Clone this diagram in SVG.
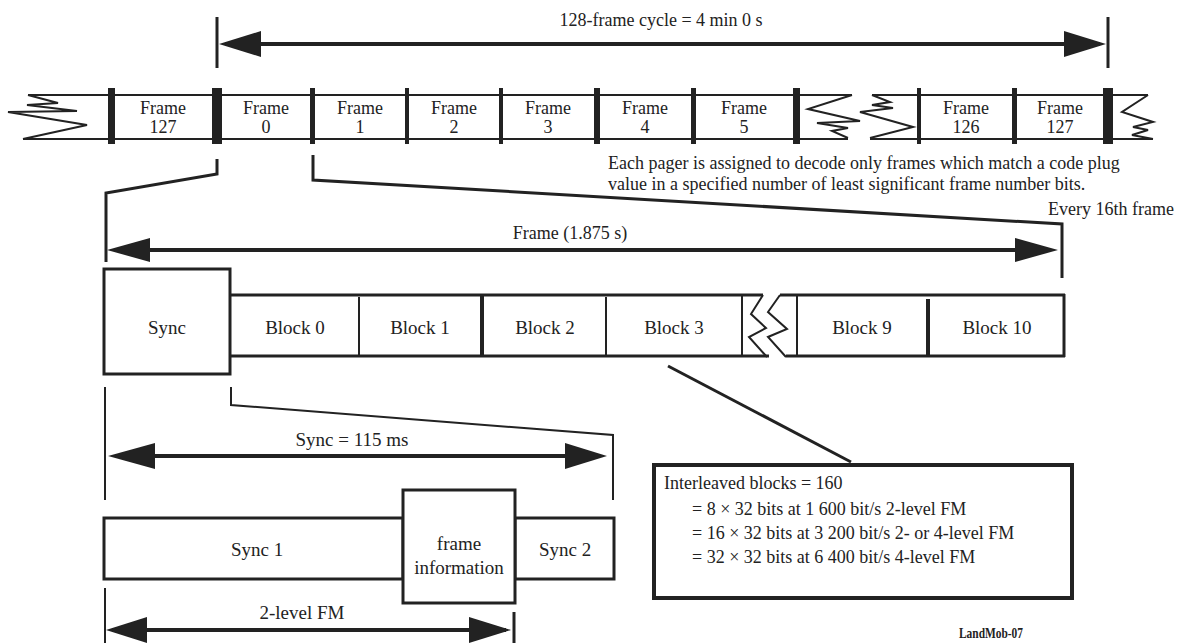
<svg xmlns="http://www.w3.org/2000/svg" width="1181" height="643" viewBox="0 0 1181 643">
<style>
text{font-family:"Liberation Serif","Times New Roman",serif;fill:#222;}
.f18{font-size:18px}
.f19{font-size:19px}
.mid{text-anchor:middle}
.ln{stroke:#222;fill:none;stroke-width:2}
.ln3{stroke:#222;fill:none;stroke-width:3}
.shaft{stroke:#222;fill:none;stroke-width:4}
.bar{fill:#222}
.ah{fill:#222}
.box{fill:#fff;stroke:#222;stroke-width:3}
</style>
<rect width="1181" height="643" fill="#fff"/>

<!-- Top cycle dimension -->
<g id="cycle-dim">
  <line class="ln3" x1="217" y1="17" x2="217" y2="68"/>
  <line class="ln3" x1="1108" y1="17" x2="1108" y2="68"/>
  <line class="shaft" x1="225" y1="44" x2="1100" y2="44"/>
  <polygon class="ah" points="219,44 261,31 261,57"/>
  <polygon class="ah" points="1106,44 1064,31 1064,57"/>
  <text class="f18 mid" x="661" y="26">128-frame cycle = 4 min 0 s</text>
</g>

<!-- Frame strip -->
<g id="frame-strip">
  <line class="ln" x1="28" y1="95" x2="852" y2="95"/>
  <line class="ln" x1="23" y1="139" x2="848" y2="139"/>
  <line class="ln" x1="872" y1="95" x2="1148" y2="95"/>
  <line class="ln" x1="870" y1="139" x2="1153" y2="139"/>
  <polyline class="ln" points="28,95 58,103 27,105 77,111 8,112 87,125 23,139"/>
  <polyline class="ln" points="852,95 808,109 860,121 817,123 848,128 832,131 848,138"/>
  <polyline class="ln" points="872,95 890,102 872,105 893,108 860,112 913,127 870,138"/>
  <polyline class="ln" points="1148,95 1122,112 1153,122 1133,127 1148,130 1132,135 1153,139"/>
  <rect class="bar" x="108" y="88" width="7" height="56"/>
  <rect class="bar" x="212" y="88" width="10" height="56"/>
  <rect class="bar" x="310" y="88" width="5" height="56"/>
  <rect class="bar" x="405" y="88" width="4" height="56"/>
  <rect class="bar" x="499" y="88" width="4" height="56"/>
  <rect class="bar" x="594" y="88" width="6" height="56"/>
  <rect class="bar" x="691" y="88" width="5" height="56"/>
  <rect class="bar" x="793" y="88" width="7" height="56"/>
  <rect class="bar" x="917" y="88" width="4" height="56"/>
  <rect class="bar" x="1012" y="88" width="5" height="56"/>
  <rect class="bar" x="1103" y="88" width="10" height="56"/>
</g>
<g id="frame-127a"><text class="f18 mid" x="163" y="114">Frame</text><text class="f18 mid" x="163" y="133">127</text></g>
<g id="frame-0"><text class="f18 mid" x="266" y="114">Frame</text><text class="f18 mid" x="266" y="133">0</text></g>
<g id="frame-1"><text class="f18 mid" x="360" y="114">Frame</text><text class="f18 mid" x="360" y="133">1</text></g>
<g id="frame-2"><text class="f18 mid" x="454" y="114">Frame</text><text class="f18 mid" x="454" y="133">2</text></g>
<g id="frame-3"><text class="f18 mid" x="548" y="114">Frame</text><text class="f18 mid" x="548" y="133">3</text></g>
<g id="frame-4"><text class="f18 mid" x="645" y="114">Frame</text><text class="f18 mid" x="645" y="133">4</text></g>
<g id="frame-5"><text class="f18 mid" x="744" y="114">Frame</text><text class="f18 mid" x="744" y="133">5</text></g>
<g id="frame-126"><text class="f18 mid" x="966" y="114">Frame</text><text class="f18 mid" x="966" y="133">126</text></g>
<g id="frame-127b"><text class="f18 mid" x="1060" y="114">Frame</text><text class="f18 mid" x="1060" y="133">127</text></g>

<g id="note">
  <text class="f18" x="608" y="169">Each pager is assigned to decode only frames which match a code plug</text>
  <text class="f18" x="608" y="190">value in a specified number of least significant frame number bits.</text>
  <text class="f18" x="1174" y="215" text-anchor="end">Every 16th frame</text>
</g>

<!-- Connectors -->
<g id="connectors">
  <polyline class="ln3" points="217,159 217,174 106,193 106,262"/>
  <polyline class="ln3" points="313,155 313,180 1062,224 1062,278"/>
  <line class="ln3" x1="668" y1="366" x2="851" y2="462"/>
  <line class="ln" x1="105" y1="387" x2="105" y2="500"/>
  <polyline class="ln" points="231,387 231,405 613,435 613,500"/>
  <line class="ln" x1="105" y1="588" x2="105" y2="643"/>
  <line class="ln3" x1="514" y1="612" x2="514" y2="643"/>
</g>

<!-- Frame dimension -->
<g id="frame-dim">
  <line class="shaft" x1="115" y1="250" x2="1050" y2="250"/>
  <polygon class="ah" points="107,250 150,238 150,262"/>
  <polygon class="ah" points="1058,250 1015,238 1015,262"/>
  <text class="f18 mid" x="570" y="239">Frame (1.875 s)</text>
</g>

<!-- Block strip -->
<g id="block-strip">
  <line class="ln3" x1="230" y1="295" x2="763" y2="295"/>
  <line class="ln3" x1="780" y1="295" x2="1065" y2="295"/>
  <line class="ln3" x1="230" y1="356" x2="769" y2="356"/>
  <line class="ln3" x1="786" y1="356" x2="1065" y2="356"/>
  <line class="ln3" x1="1064" y1="294" x2="1064" y2="357"/>
  <polyline class="ln" points="763,295 751,314 766,328 749,337 767,357"/>
  <polyline class="ln" points="780,295 768,312 787,329 768,337 786,357"/>
  <line class="ln" x1="742" y1="295" x2="742" y2="356"/>
  <line class="ln" x1="797" y1="295" x2="797" y2="356"/>
  <line class="ln" x1="359" y1="297" x2="359" y2="356"/>
  <line class="shaft" x1="482" y1="295" x2="482" y2="356"/>
  <line class="ln" x1="606" y1="297" x2="606" y2="356"/>
  <line class="shaft" x1="928" y1="299" x2="928" y2="356"/>
</g>
<g id="sync"><rect class="box" x="104" y="269" width="126" height="105"/><text class="f19 mid" x="167" y="334">Sync</text></g>
<g id="block-0"><text class="f19 mid" x="295" y="334">Block 0</text></g>
<g id="block-1"><text class="f19 mid" x="420" y="334">Block 1</text></g>
<g id="block-2"><text class="f19 mid" x="545" y="334">Block 2</text></g>
<g id="block-3"><text class="f19 mid" x="674" y="334">Block 3</text></g>
<g id="block-9"><text class="f19 mid" x="862" y="334">Block 9</text></g>
<g id="block-10"><text class="f19 mid" x="997" y="334">Block 10</text></g>

<!-- Sync dimension -->
<g id="sync-dim">
  <line class="shaft" x1="115" y1="456" x2="600" y2="456"/>
  <polygon class="ah" points="108,456 155,443 155,469"/>
  <polygon class="ah" points="607,456 565,443 565,469"/>
  <text class="f19 mid" x="352" y="446">Sync = 115 ms</text>
</g>

<!-- Sync detail -->
<g id="sync-1"><rect class="box" x="104" y="518" width="299" height="61"/><text class="f19 mid" x="257" y="556">Sync 1</text></g>
<g id="sync-2"><rect class="box" x="515" y="518" width="99" height="61"/><text class="f19 mid" x="565" y="556">Sync 2</text></g>
<g id="frame-info"><rect class="box" x="403" y="490" width="112" height="113"/><text class="f19 mid" x="459" y="550">frame</text><text class="f19 mid" x="459" y="574">information</text></g>

<!-- 2-level FM dimension -->
<g id="fm-dim">
  <line class="shaft" x1="112" y1="630" x2="506" y2="630"/>
  <polygon class="ah" points="106,630 147,617 147,643"/>
  <polygon class="ah" points="511,630 469,617 469,643"/>
  <text class="f19 mid" x="302" y="619">2-level FM</text>
</g>

<!-- Interleaved box -->
<g id="interleaved">
  <rect x="654" y="465" width="418" height="133" fill="#fff" stroke="#222" stroke-width="4"/>
  <text class="f18" x="664" y="489">Interleaved blocks = 160</text>
  <text class="f18" x="692" y="515">= 8 × 32 bits at 1 600 bit/s 2-level FM</text>
  <text class="f18" x="692" y="539">= 16 × 32 bits at 3 200 bit/s 2- or 4-level FM</text>
  <text class="f18" x="692" y="563">= 32 × 32 bits at 6 400 bit/s 4-level FM</text>
</g>

<g id="label"><text x="959" y="638" font-size="14" font-weight="bold" textLength="64" lengthAdjust="spacingAndGlyphs">LandMob-07</text></g>
</svg>
